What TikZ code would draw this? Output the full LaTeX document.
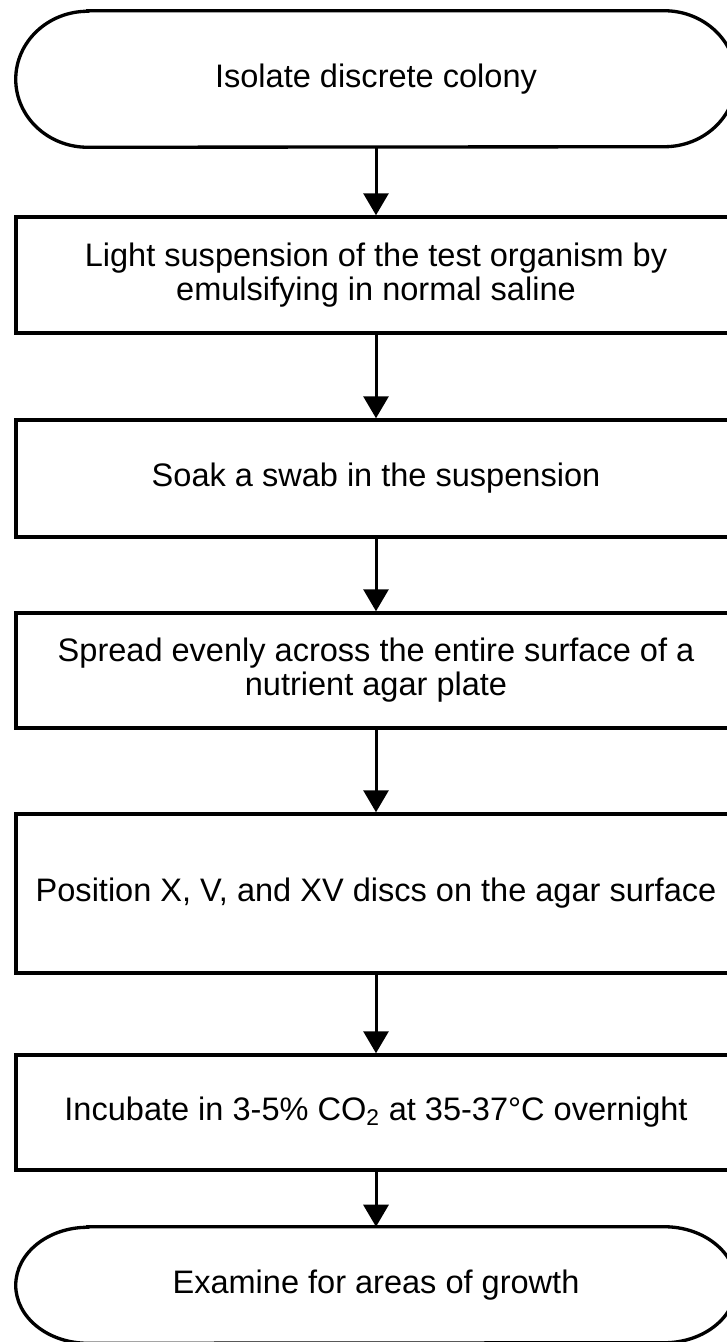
\documentclass[tikz,border=0pt]{standalone}
\usepackage{fontspec}
\setmainfont{Liberation Sans}
\usetikzlibrary{arrows.meta}
\begin{document}
\begin{tikzpicture}[x=0.75pt,y=0.75pt,
  every node/.style={font=\fontsize{24.4}{25.5}\selectfont, align=center, inner sep=0pt},
  stepbox/.style={draw, line width=2.6pt, minimum width=540pt},
  termnode/.style={minimum width=540pt},
  termline/.style={line width=2.5pt},
  flow/.style={line width=2.25pt, -{Triangle[length=16.5pt,width=18.75pt]}}]
\useasboundingbox (0,0) rectangle (726,-1342);
\node[termnode, minimum height=102pt] (t1) at (376,-79) {Isolate discrete colony};
\draw[termline] ([xshift=54pt]t1.north west) -- ([xshift=-54pt]t1.north east)
  arc[start angle=90, end angle=-90, x radius=54pt, y radius=51pt]
  -- ([xshift=54pt]t1.south west)
  arc[start angle=270, end angle=90, x radius=54pt, y radius=51pt] -- cycle;
\node[stepbox, minimum height=87pt] (b1) at (376,-275) {Light suspension of the test organism by\\emulsifying in normal saline};
\node[stepbox, minimum height=87.75pt] (b2) at (376,-478.5) {Soak a swab in the suspension};
\node[stepbox, minimum height=86.25pt] (b3) at (376,-670.5) {Spread evenly across the entire surface of a\\nutrient agar plate};
\node[stepbox, minimum height=119.25pt] (b4) at (376,-893.5) {Position X, V, and XV discs on the agar surface};
\node[stepbox, minimum height=86.25pt] (b5) at (376,-1112.5) {Incubate in 3-5\% CO\textsubscript{2} at 35-37°C overnight};
\node[termnode, minimum height=87pt] (t2) at (376,-1285) {Examine for areas of growth};
\draw[termline] ([xshift=54pt]t2.north west) -- ([xshift=-54pt]t2.north east)
  arc[start angle=90, end angle=-90, x radius=54pt, y radius=43.5pt]
  -- ([xshift=54pt]t2.south west)
  arc[start angle=270, end angle=90, x radius=54pt, y radius=43.5pt] -- cycle;
\draw[flow] (t1.south) -- (b1.north);
\draw[flow] (b1.south) -- (b2.north);
\draw[flow] (b2.south) -- (b3.north);
\draw[flow] (b3.south) -- (b4.north);
\draw[flow] (b4.south) -- (b5.north);
\draw[flow] (b5.south) -- (t2.north);
\end{tikzpicture}
\end{document}
